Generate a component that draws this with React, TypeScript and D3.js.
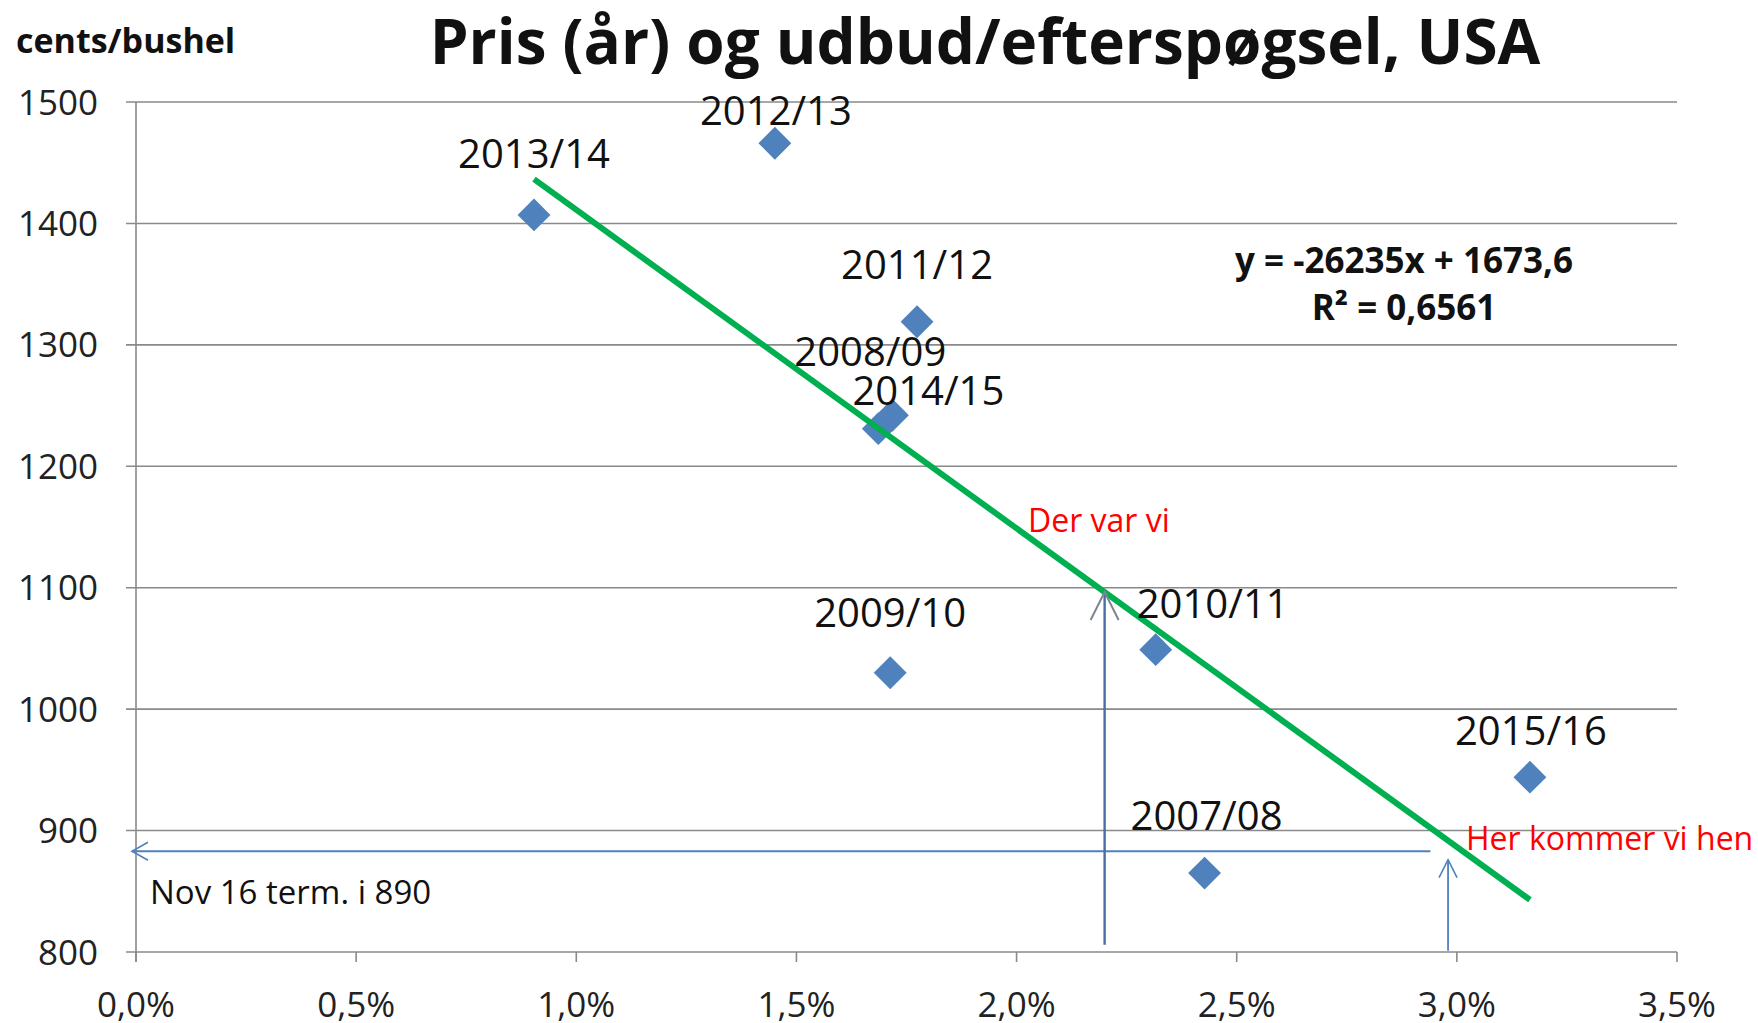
import React from "react";
import * as d3 from "d3";

// sæsoner, andel (x) og pris i cents/bushel (y)
const seasons = ["2013/14", "2012/13", "2011/12", "2008/09", "2014/15", "2009/10", "2010/11", "2007/08", "2015/16"];
const shares = [0.00904, 0.01451, 0.01774, 0.01686, 0.01718, 0.01713, 0.02316, 0.02427, 0.03166];
const prices = [1407, 1466, 1319, 1231, 1242, 1030, 1049, 865, 944];

const xTicks = [0, 0.005, 0.01, 0.015, 0.02, 0.025, 0.03, 0.035];
const yTicks = [800, 900, 1000, 1100, 1200, 1300, 1400, 1500];

// trendlinje fra Excel
const slope = -26235;
const intercept = 1673.6;

// pile
const termPrice = 883;
const termEndShare = 0.0294;
const nowShare = 0.022;
const futureShare = 0.0298;

// label offsets (px) i forhold til punktet
const labelOffsets = [
  [0, -47], [1, -18], [0, -43], [-8, -63], [36, -10], [0, -46], [57, -32], [2, -43], [1, -32],
];

const W = 1758;
const H = 1023;
const FONT = "'Open Sans', sans-serif";
const BLUE = "#4F81BD";

export default function App() {
  const x = d3.scaleLinear().domain([0, 0.035]).range([136, 1677]);
  const y = d3.scaleLinear().domain([800, 1500]).range([952, 102]);
  const fmt = (v: number) => d3.format(".1%")(v).replace(".", ",");

  const diamond = d3.symbol(d3.symbolSquare, 540)()!;
  const xs = d3.extent(shares) as [number, number];
  const trend = d3
    .line<number>()
    .x((d) => x(d))
    .y((d) => y(slope * d + intercept))(xs)!;

  const ax = (x1: number, y1: number, x2: number, y2: number) => `M${x1},${y1}L${x2},${y2}`;
  const nowPrice = slope * nowShare + intercept;

  return (
    <svg width={W} height={H} style={{ position: "absolute", left: 0, top: 0, display: "block", background: "#fff" }} fontFamily={FONT}>
      {/* gitter */}
      {yTicks.map((t) => (
        <g key={t}>
          <line x1={x(0) - 10} x2={x(0.035)} y1={y(t)} y2={y(t)} stroke="#8a8a8a" strokeWidth={1.6} />
          <text x={98} y={y(t)} dy="0.36em" textAnchor="end" fontSize={35} fill="#222">
            {t}
          </text>
        </g>
      ))}
      <line x1={x(0)} x2={x(0)} y1={y(1500)} y2={y(800) + 10} stroke="#8a8a8a" strokeWidth={1.6} />
      {xTicks.map((t) => (
        <g key={t}>
          <line x1={x(t)} x2={x(t)} y1={y(800)} y2={y(800) + 10} stroke="#8a8a8a" strokeWidth={1.6} />
          <text x={x(t)} y={1017} textAnchor="middle" fontSize={35} fill="#222">
            {fmt(t)}
          </text>
        </g>
      ))}

      {/* punkter */}
      {shares.map((s, i) => (
        <path key={i} d={diamond} transform={`translate(${x(s)},${y(prices[i])}) rotate(45)`} fill={BLUE} />
      ))}

      {/* trendlinje */}
      <path d={trend} stroke="#00B050" strokeWidth={6} fill="none" />

      {/* pile */}
      <path d={ax(x(termEndShare), y(termPrice), x(0) - 4, y(termPrice))} stroke={BLUE} strokeWidth={2} fill="none" />
      <path
        d={`M${x(0) + 12},${y(termPrice) - 9}L${x(0) - 4},${y(termPrice)}L${x(0) + 12},${y(termPrice) + 9}`}
        stroke={BLUE}
        strokeWidth={1.6}
        fill="none"
      />
      <path d={ax(x(nowShare), y(806), x(nowShare), y(nowPrice))} stroke="#4a6fa5" strokeWidth={2.4} fill="none" />
      <path
        d={`M${x(nowShare) - 14},${y(nowPrice) + 28}L${x(nowShare)},${y(nowPrice)}L${x(nowShare) + 14},${y(nowPrice) + 28}`}
        stroke="#7d8594"
        strokeWidth={2}
        fill="none"
      />
      <path d={ax(x(futureShare), y(801), x(futureShare), y(876))} stroke={BLUE} strokeWidth={1.8} fill="none" />
      <path
        d={`M${x(futureShare) - 9},${y(876) + 18}L${x(futureShare)},${y(876)}L${x(futureShare) + 9},${y(876) + 18}`}
        stroke={BLUE}
        strokeWidth={1.6}
        fill="none"
      />

      {/* labels */}
      {shares.map((s, i) => (
        <text
          key={seasons[i]}
          x={x(s) + labelOffsets[i][0]}
          y={y(prices[i]) + labelOffsets[i][1]}
          textAnchor="middle"
          fontSize={40}
          fill="#111"
        >
          {seasons[i]}
        </text>
      ))}

      <text x={x(0) + 14} y={904} fontSize={33} fill="#111">
        Nov 16 term. i 890
      </text>
      <text x={1028} y={532} fontSize={32} fill="#FF0000">
        Der var vi
      </text>
      <text x={1466} y={850} fontSize={32} fill="#FF0000">
        Her kommer vi hen
      </text>

      <text x={1404} y={273} textAnchor="middle" fontSize={35} fontWeight="bold" fill="#111">
        y = -26235x + 1673,6
      </text>
      <text x={1404} y={320} textAnchor="middle" fontSize={35} fontWeight="bold" fill="#111">
        R² = 0,6561
      </text>

      <text x={16} y={53} fontSize={34} fontWeight="bold" fill="#111">
        cents/bushel
      </text>
      <text x={985} y={64} textAnchor="middle" fontSize={62} fontWeight="bold" fill="#111">
        Pris (år) og udbud/efterspøgsel, USA
      </text>
    </svg>
  );
}
